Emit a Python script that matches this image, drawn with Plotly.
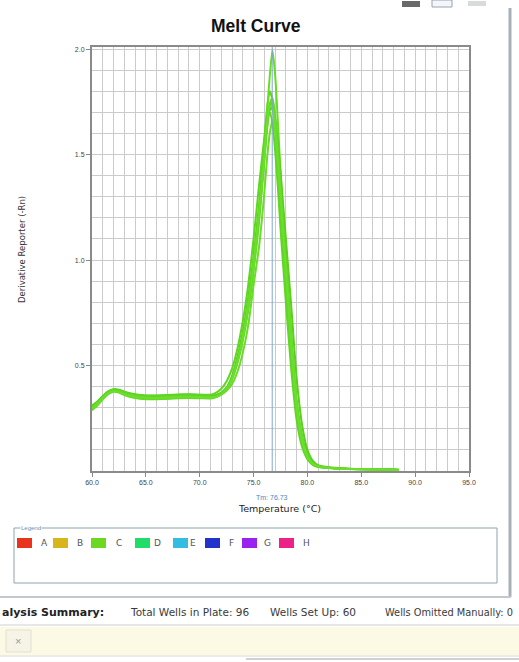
import plotly.graph_objects as go

# ---- data -----------------------------------------------------------------
temperature = [60, 60.5, 61, 61.5, 62, 62.5, 63, 64, 65, 66, 67, 68, 69, 70, 71,
               71.5, 72, 72.5, 73, 73.5, 74, 74.5, 75, 75.5, 76, 76.25, 76.5,
               76.75, 77, 77.25, 77.5, 78, 78.5, 79, 79.5, 80, 80.5, 81, 82, 83,
               84, 86, 88, 88.5]

well_c1 = [0.300, 0.322, 0.350, 0.372, 0.382, 0.378, 0.368, 0.356, 0.350, 0.350, 0.352,
           0.355, 0.356, 0.354, 0.352, 0.356, 0.368, 0.392, 0.440, 0.520, 0.630, 0.780,
           0.970, 1.200, 1.480, 1.620, 1.720, 1.750, 1.660, 1.500, 1.320, 0.960, 0.600,
           0.310, 0.150, 0.070, 0.035, 0.022, 0.015, 0.012, 0.010, 0.008, 0.006, 0.005]
well_c2 = [0.292, 0.315, 0.345, 0.368, 0.380, 0.376, 0.364, 0.350, 0.343, 0.342, 0.344,
           0.347, 0.348, 0.347, 0.346, 0.352, 0.366, 0.395, 0.450, 0.540, 0.660, 0.820,
           1.020, 1.260, 1.560, 1.720, 1.800, 1.760, 1.620, 1.440, 1.250, 0.890, 0.540,
           0.270, 0.130, 0.060, 0.030, 0.020, 0.014, 0.011, 0.009, 0.007, 0.006, 0.005]
well_c3 = [0.305, 0.326, 0.352, 0.374, 0.384, 0.381, 0.372, 0.360, 0.355, 0.356, 0.358,
           0.361, 0.362, 0.360, 0.357, 0.358, 0.364, 0.380, 0.412, 0.470, 0.560, 0.690,
           0.880, 1.060, 1.320, 1.480, 1.600, 1.660, 1.620, 1.500, 1.360, 1.020, 0.660,
           0.340, 0.170, 0.080, 0.040, 0.025, 0.016, 0.013, 0.010, 0.008, 0.007, 0.006]
well_c4 = [0.298, 0.320, 0.348, 0.370, 0.380, 0.376, 0.366, 0.354, 0.348, 0.348, 0.350,
           0.353, 0.354, 0.352, 0.350, 0.354, 0.366, 0.390, 0.436, 0.512, 0.618, 0.760,
           0.950, 1.180, 1.500, 1.700, 1.870, 1.995, 1.880, 1.660, 1.420, 0.990, 0.610,
           0.310, 0.150, 0.070, 0.035, 0.022, 0.015, 0.012, 0.010, 0.008, 0.006, 0.005]
well_c5 = [0.310, 0.330, 0.356, 0.378, 0.388, 0.385, 0.376, 0.364, 0.358, 0.358, 0.360,
           0.362, 0.363, 0.361, 0.358, 0.361, 0.372, 0.396, 0.445, 0.530, 0.645, 0.800,
           0.990, 1.220, 1.500, 1.640, 1.710, 1.720, 1.670, 1.560, 1.420, 1.100, 0.780,
           0.440, 0.220, 0.100, 0.048, 0.028, 0.018, 0.014, 0.011, 0.009, 0.007, 0.006]
well_c6 = [0.288, 0.310, 0.340, 0.364, 0.376, 0.372, 0.360, 0.346, 0.340, 0.340, 0.342,
           0.345, 0.346, 0.345, 0.344, 0.349, 0.362, 0.388, 0.436, 0.516, 0.626, 0.772,
           0.958, 1.190, 1.470, 1.630, 1.740, 1.770, 1.690, 1.530, 1.350, 0.980, 0.620,
           0.320, 0.155, 0.072, 0.036, 0.023, 0.015, 0.012, 0.010, 0.008, 0.006, 0.005]
well_c7 = [0.302, 0.324, 0.352, 0.375, 0.386, 0.383, 0.374, 0.362, 0.357, 0.357, 0.359,
           0.362, 0.364, 0.362, 0.362, 0.370, 0.390, 0.425, 0.485, 0.580, 0.710, 0.880,
           1.100, 1.350, 1.580, 1.680, 1.700, 1.650, 1.520, 1.350, 1.150, 0.800, 0.480,
           0.240, 0.115, 0.056, 0.029, 0.019, 0.014, 0.011, 0.009, 0.007, 0.006, 0.005]
well_c8 = [0.296, 0.318, 0.346, 0.369, 0.379, 0.375, 0.365, 0.353, 0.347, 0.346, 0.348,
           0.351, 0.352, 0.350, 0.348, 0.352, 0.364, 0.389, 0.438, 0.522, 0.636, 0.790,
           0.985, 1.220, 1.500, 1.650, 1.730, 1.720, 1.630, 1.470, 1.300, 0.940, 0.590,
           0.300, 0.145, 0.068, 0.034, 0.021, 0.014, 0.011, 0.009, 0.007, 0.006, 0.005]

wells = {"C1": well_c1, "C2": well_c2, "C3": well_c3, "C4": well_c4,
         "C5": well_c5, "C6": well_c6, "C7": well_c7, "C8": well_c8}
well_colors = ["#62d823", "#5ed41f", "#6adc2a", "#66dd22", "#58d01c",
               "#64da26", "#5fd624", "#6bdf2c"]

tm_value = 76.73

x_tick_vals = [60, 65, 70, 75, 80, 85, 90, 95]
y_tick_vals = [0.5, 1.0, 1.5, 2.0]
y_tick_text = ["0.5", "1.0", "1.5", "2.0"]

legend_rows = ["A", "B", "C", "D", "E", "F", "G", "H"]
legend_colors = ["#e8341c", "#d8b51c", "#6cd822", "#22dc6a", "#33bde0",
                 "#2233cc", "#9a22ee", "#ec2288"]

summary_items = ["Total Wells in Plate: 96", "Wells Set Up: 60",
                 "Wells Omitted Manually: 0"]

# ---- page geometry (plot area spans x 92..469, y 47..471 px) --------------
W, H = 519, 662
L, R, T, B = 92, 50, 47, 191


def px(x):
    return (x - L) / (W - L - R)


def py(y):
    return (H - B - y) / (H - T - B)


FONT = "Liberation Sans, Arial, sans-serif"
WIDE = "DejaVu Sans, Verdana, sans-serif"

fig = go.Figure()

for (name, vals), col in zip(wells.items(), well_colors):
    fig.add_trace(go.Scatter(
        x=temperature, y=vals, name=name, mode="lines",
        line=dict(color=col, width=2, shape="spline", smoothing=0.6),
        showlegend=False,
    ))

grid_col = "#cbcbcb"
fig.update_xaxes(
    range=[60, 95], tickvals=x_tick_vals, tickformat=".1f",
    showgrid=True, gridcolor=grid_col, gridwidth=1,
    minor=dict(dtick=1, tick0=60, showgrid=True, gridcolor=grid_col, gridwidth=1),
    showline=True, linecolor="#8a8a8a", linewidth=2, mirror=True,
    ticks="outside", ticklen=4, tickcolor="#888",
    tickfont=dict(family=FONT, size=7, color="#444"),
    zeroline=False,
)
fig.update_yaxes(
    range=[0, 2.01], tickmode="array", tickvals=y_tick_vals, ticktext=y_tick_text,
    showgrid=True, gridcolor=grid_col, gridwidth=1,
    minor=dict(dtick=0.1, tick0=0, showgrid=True, gridcolor=grid_col, gridwidth=1),
    showline=True, linecolor="#8a8a8a", linewidth=2, mirror=True,
    ticks="outside", ticklen=4, tickcolor="#888",
    tickfont=dict(family=FONT, size=7, color="#444"),
    zeroline=False,
)

shapes = []
# Tm marker
shapes.append(dict(type="line", xref="x", yref="y", x0=tm_value, x1=tm_value,
                   y0=0, y1=2.01, line=dict(color="#7ea8d4", width=1), layer="above"))

# legend panel
shapes.append(dict(type="rect", xref="paper", yref="paper",
                   x0=px(14), x1=px(497), y0=py(583), y1=py(528),
                   line=dict(color="#8fa2b0", width=1)))
sq_x = [17, 53, 91, 135, 173, 205, 242, 279]
lab_x = [39, 75, 114, 152, 188, 227, 262, 301]
for sx, col in zip(sq_x, legend_colors):
    shapes.append(dict(type="rect", xref="paper", yref="paper",
                       x0=px(sx), x1=px(sx + 15), y0=py(548), y1=py(538),
                       line=dict(width=0), fillcolor=col))

# window frame on the right and below the chart panel
shapes.append(dict(type="line", xref="paper", yref="paper",
                   x0=px(510), x1=px(510), y0=py(597), y1=py(8),
                   line=dict(color="#a9b1b8", width=3)))
shapes.append(dict(type="line", xref="paper", yref="paper",
                   x0=px(0), x1=px(511), y0=py(597), y1=py(597),
                   line=dict(color="#c2c8cc", width=2)))
# status strip
shapes.append(dict(type="line", xref="paper", yref="paper",
                   x0=px(0), x1=px(519), y0=py(625), y1=py(625),
                   line=dict(color="#cfcfcf", width=1)))
shapes.append(dict(type="rect", xref="paper", yref="paper",
                   x0=px(0), x1=px(519), y0=py(655), y1=py(627),
                   line=dict(width=0), fillcolor="#fcf9e4"))
shapes.append(dict(type="rect", xref="paper", yref="paper",
                   x0=px(6), x1=px(31), y0=py(652), y1=py(630),
                   line=dict(color="#e2e0d0", width=1), fillcolor="#f6f4e6"))
shapes.append(dict(type="line", xref="paper", yref="paper",
                   x0=px(0), x1=px(519), y0=py(656), y1=py(656),
                   line=dict(color="#d6d6d0", width=1)))
shapes.append(dict(type="line", xref="paper", yref="paper",
                   x0=px(246), x1=px(519), y0=py(659), y1=py(659),
                   line=dict(color="#d0d0d0", width=2)))
# toolbar icons at the top right
shapes.append(dict(type="rect", xref="paper", yref="paper",
                   x0=px(402), x1=px(420), y0=py(7), y1=py(1),
                   line=dict(width=0), fillcolor="#6a6a6a"))
shapes.append(dict(type="rect", xref="paper", yref="paper",
                   x0=px(432), x1=px(452), y0=py(7), y1=py(0),
                   line=dict(color="#9aa4b4", width=1), fillcolor="#f4f6fa"))
shapes.append(dict(type="rect", xref="paper", yref="paper",
                   x0=px(468), x1=px(486), y0=py(6), y1=py(1),
                   line=dict(width=0), fillcolor="#d8dcd8"))


def note(text, x, y, size, color, xanchor="center", family=FONT, **kw):
    return dict(text=text, xref="paper", yref="paper", x=px(x), y=py(y),
                xanchor=xanchor, yanchor="middle", showarrow=False,
                font=dict(family=family, size=size, color=color), **kw)


annotations = []
annotations.append(note("<b>Melt Curve</b>", 256, 26, 17.5, "#111"))
annotations.append(note("Derivative Reporter (-Rn)", 22, 250, 8.5, "#333",
                        family=WIDE, textangle=-90))
annotations.append(note("Temperature (°C)", 279, 509, 9.5, "#222", family=WIDE))
annotations.append(dict(text=f"Tm: {tm_value:.2f}", xref="x", yref="paper",
                        x=tm_value, y=py(497), yanchor="middle", showarrow=False,
                        font=dict(family=FONT, size=7, color="#4f86c6")))
annotations.append(note("Legend", 20, 528, 6, "#6d8fb0", xanchor="left",
                        bgcolor="white", borderpad=0))
for lx, lab in zip(lab_x, legend_rows):
    annotations.append(note(lab, lx, 543, 9, "#555", xanchor="left", family=WIDE))
annotations.append(note("<b>alysis Summary:</b>", 0, 612, 11, "#222",
                        xanchor="left", family=WIDE))
for sx, txt, sz in zip([128, 268, 383], summary_items, [10.5, 10.5, 9.8]):
    annotations.append(note(txt, sx, 612, sz, "#3a3a3a", xanchor="left", family=WIDE))
annotations.append(note("×", 18, 641, 11, "#999"))

fig.update_layout(
    width=W, height=H,
    margin=dict(l=L, r=R, t=T, b=B, pad=0),
    paper_bgcolor="white", plot_bgcolor="white",
    shapes=shapes, annotations=annotations,
    showlegend=False,
)

fig.write_html("out.html")
